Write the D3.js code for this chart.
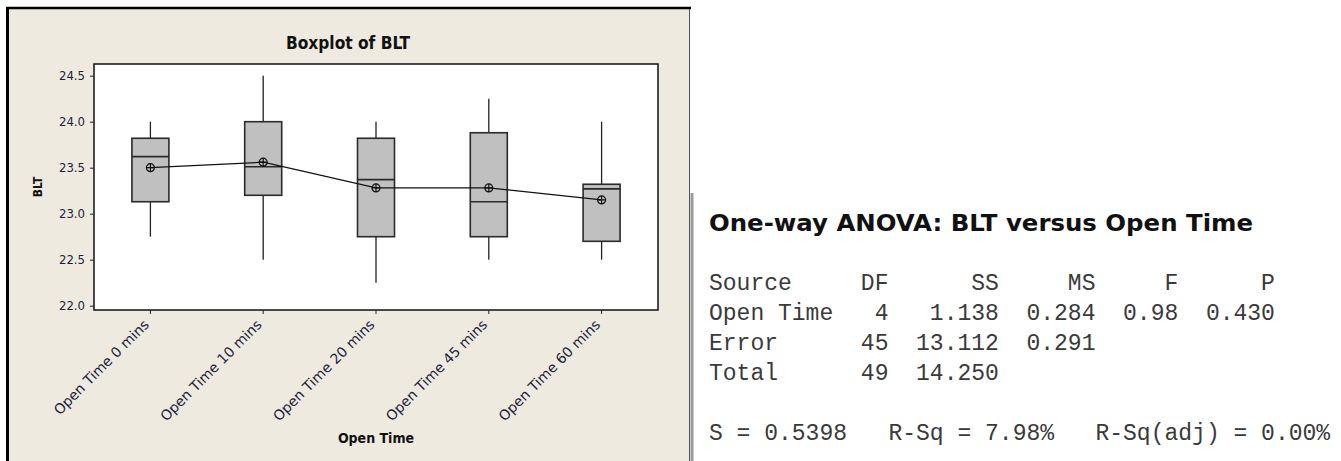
<!DOCTYPE html>
<html>
<head>
<meta charset="utf-8">
<script src="https://cdn.jsdelivr.net/npm/d3@7"></script>
<style>
    body { margin: 0; background: #fff; }
    svg { display: block; }
</style>
</head>
<body>
<div id="chart"></div>
<script>
// boxplot summaries per open time
var categories = ['Open Time 0 mins', 'Open Time 10 mins', 'Open Time 20 mins', 'Open Time 45 mins', 'Open Time 60 mins'];
var whiskerLow = [22.75, 22.5, 22.25, 22.5, 22.5];
var q1Values = [23.13, 23.2, 22.75, 22.75, 22.7];
var medianValues = [23.62, 23.51, 23.37, 23.13, 23.27];
var q3Values = [23.82, 24.0, 23.82, 23.88, 23.32];
var whiskerHigh = [24.0, 24.5, 24.0, 24.25, 24.0];
var meanValues = [23.5, 23.56, 23.28, 23.28, 23.15];
var yTicks = [22.0, 22.5, 23.0, 23.5, 24.0, 24.5];

// one-way anova output
var sources = ['Open Time', 'Error', 'Total'];
var dfValues = ['4', '45', '49'];
var ssValues = ['1.138', '13.112', '14.250'];
var msValues = ['0.284', '0.291', ''];
var fValues = ['0.98', '', ''];
var pValues = ['0.430', '', ''];
var summaryLine = 'S = 0.5398   R-Sq = 7.98%   R-Sq(adj) = 0.00%';

;(function () {

    var width = 1341, height = 461;
    var plot = { left: 94, right: 658, top: 64, bottom: 310 };
    var boxWidth = 37;
    var leftFont = '"DejaVu Sans Condensed", "DejaVu Sans", sans-serif';

    var svg = d3.select('#chart').append('svg')
        .attr('width', width)
        .attr('height', height);

    // beige graph window
    svg.append('rect')
        .attr('x', 7).attr('y', 8)
        .attr('width', 682).attr('height', height - 8)
        .attr('fill', '#eeeae0');
    svg.append('line')
        .attr('x1', 689.5).attr('x2', 689.5).attr('y1', 9).attr('y2', height)
        .attr('stroke', '#555').attr('stroke-width', 1);
    svg.append('line')
        .attr('x1', 6).attr('x2', 691).attr('y1', 8).attr('y2', 8)
        .attr('stroke', '#000').attr('stroke-width', 2.5);
    svg.append('line')
        .attr('x1', 7.5).attr('x2', 7.5).attr('y1', 7).attr('y2', height)
        .attr('stroke', '#000').attr('stroke-width', 3);
    // divider beside the session output
    svg.append('line')
        .attr('x1', 692).attr('x2', 692).attr('y1', 193).attr('y2', height)
        .attr('stroke', '#9a9a9a').attr('stroke-width', 3);

    var x = d3.scaleBand()
        .domain(categories)
        .range([plot.left, plot.right]);

    var y = d3.scaleLinear()
        .domain([22, 24.5])
        .range([305.7, 75.7]);

    svg.append('rect')
        .attr('x', plot.left).attr('y', plot.top)
        .attr('width', plot.right - plot.left).attr('height', plot.bottom - plot.top)
        .attr('fill', '#fff')
        .attr('stroke', '#111').attr('stroke-width', 1.5);

    var yAxis = svg.append('g')
        .attr('transform', 'translate(' + plot.left + ',0)')
        .call(d3.axisLeft(y).tickValues(yTicks).tickFormat(d3.format('.1f')).tickSize(4).tickPadding(5));
    yAxis.select('.domain').remove();
    yAxis.selectAll('line').attr('stroke', '#222');
    yAxis.selectAll('text')
        .attr('font-family', leftFont)
        .attr('font-size', 13)
        .attr('fill', '#1d1d3a');

    var xAxis = svg.append('g')
        .attr('transform', 'translate(0,' + plot.bottom + ')')
        .call(d3.axisBottom(x).tickSize(4).tickPadding(4));
    xAxis.select('.domain').remove();
    xAxis.selectAll('line').attr('stroke', '#222');
    xAxis.selectAll('text')
        .attr('font-family', '"DejaVu Sans", sans-serif')
        .attr('font-size', 14)
        .attr('fill', '#1d1d3a')
        .attr('text-anchor', 'end')
        .attr('x', 0).attr('y', 0)
        .attr('dy', '0.35em')
        .attr('transform', 'translate(-4,12) rotate(-45)');

    var items = categories.map(function (c, i) {
        return { name: c, lo: whiskerLow[i], q1: q1Values[i], med: medianValues[i], q3: q3Values[i], hi: whiskerHigh[i], mean: meanValues[i] };
    });

    var groups = svg.selectAll('g.box')
        .data(items)
        .enter()
        .append('g')
        .attr('class', 'box');

    groups.append('line')
        .attr('x1', function (d) { return x(d.name) + x.bandwidth() / 2; })
        .attr('x2', function (d) { return x(d.name) + x.bandwidth() / 2; })
        .attr('y1', function (d) { return y(d.hi); })
        .attr('y2', function (d) { return y(d.q3); })
        .attr('stroke', '#222').attr('stroke-width', 1.3);
    groups.append('line')
        .attr('x1', function (d) { return x(d.name) + x.bandwidth() / 2; })
        .attr('x2', function (d) { return x(d.name) + x.bandwidth() / 2; })
        .attr('y1', function (d) { return y(d.q1); })
        .attr('y2', function (d) { return y(d.lo); })
        .attr('stroke', '#222').attr('stroke-width', 1.3);

    groups.append('rect')
        .attr('x', function (d) { return x(d.name) + x.bandwidth() / 2 - boxWidth / 2; })
        .attr('y', function (d) { return y(d.q3); })
        .attr('width', boxWidth)
        .attr('height', function (d) { return y(d.q1) - y(d.q3); })
        .attr('fill', '#c0c0c0')
        .attr('stroke', '#2a2a2a').attr('stroke-width', 1.6);

    groups.append('line')
        .attr('x1', function (d) { return x(d.name) + x.bandwidth() / 2 - boxWidth / 2; })
        .attr('x2', function (d) { return x(d.name) + x.bandwidth() / 2 + boxWidth / 2; })
        .attr('y1', function (d) { return y(d.med); })
        .attr('y2', function (d) { return y(d.med); })
        .attr('stroke', '#2a2a2a').attr('stroke-width', 1.6);

    // mean connect line
    var meanLine = d3.line()
        .x(function (d) { return x(d.name) + x.bandwidth() / 2; })
        .y(function (d) { return y(d.mean); });
    svg.append('path')
        .datum(items)
        .attr('d', meanLine)
        .attr('fill', 'none')
        .attr('stroke', '#111').attr('stroke-width', 1.2);

    var marks = svg.selectAll('g.mean')
        .data(items)
        .enter()
        .append('g')
        .attr('class', 'mean')
        .attr('transform', function (d) { return 'translate(' + (x(d.name) + x.bandwidth() / 2) + ',' + y(d.mean) + ')'; });
    marks.append('circle')
        .attr('r', 4).attr('fill', 'none')
        .attr('stroke', '#111').attr('stroke-width', 1.2);
    marks.append('path')
        .attr('d', 'M-4,0H4M0,-4V4')
        .attr('stroke', '#111').attr('stroke-width', 1.2);

    svg.append('text')
        .attr('x', 348).attr('y', 49)
        .attr('text-anchor', 'middle')
        .attr('font-family', leftFont)
        .attr('font-weight', 'bold')
        .attr('font-size', 17)
        .attr('textLength', 124)
        .attr('lengthAdjust', 'spacingAndGlyphs')
        .attr('fill', '#111')
        .text('Boxplot of BLT');

    svg.append('text')
        .attr('transform', 'translate(42,187) rotate(-90)')
        .attr('text-anchor', 'middle')
        .attr('font-family', leftFont)
        .attr('font-weight', 'bold')
        .attr('font-size', 12)
        .attr('fill', '#111')
        .text('BLT');

    svg.append('text')
        .attr('x', 376).attr('y', 443)
        .attr('text-anchor', 'middle')
        .attr('font-family', leftFont)
        .attr('font-weight', 'bold')
        .attr('font-size', 14)
        .attr('fill', '#111')
        .text('Open Time');

    // session window output
    svg.append('text')
        .attr('x', 709).attr('y', 231)
        .attr('font-family', '"DejaVu Sans", sans-serif')
        .attr('font-weight', 'bold')
        .attr('font-size', 23)
        .attr('textLength', 544)
        .attr('lengthAdjust', 'spacingAndGlyphs')
        .attr('fill', '#111')
        .text('One-way ANOVA: BLT versus Open Time');

    var header = 'Source'.padEnd(9) + 'DF'.padStart(4) + 'SS'.padStart(8) + 'MS'.padStart(7) + 'F'.padStart(6) + 'P'.padStart(7);
    var lines = [header].concat(sources.map(function (s, i) {
        return s.padEnd(9) + dfValues[i].padStart(4) + ssValues[i].padStart(8) +
            (msValues[i] ? msValues[i].padStart(7) : '') +
            (fValues[i] ? fValues[i].padStart(6) : '') +
            (pValues[i] ? pValues[i].padStart(7) : '');
    }));

    svg.selectAll('text.session')
        .data(lines)
        .enter()
        .append('text')
        .attr('class', 'session')
        .attr('x', 709)
        .attr('y', function (d, i) { return 290 + i * 30; })
        .attr('font-family', '"Liberation Mono", "Courier New", monospace')
        .attr('font-size', 23)
        .attr('fill', '#3a3a3a')
        .style('white-space', 'pre')
        .text(function (d) { return d; });

    svg.append('text')
        .attr('x', 709).attr('y', 440)
        .attr('font-family', '"Liberation Mono", "Courier New", monospace')
        .attr('font-size', 23)
        .attr('fill', '#3a3a3a')
        .style('white-space', 'pre')
        .text(summaryLine);

} ());
</script>
</body>
</html>
